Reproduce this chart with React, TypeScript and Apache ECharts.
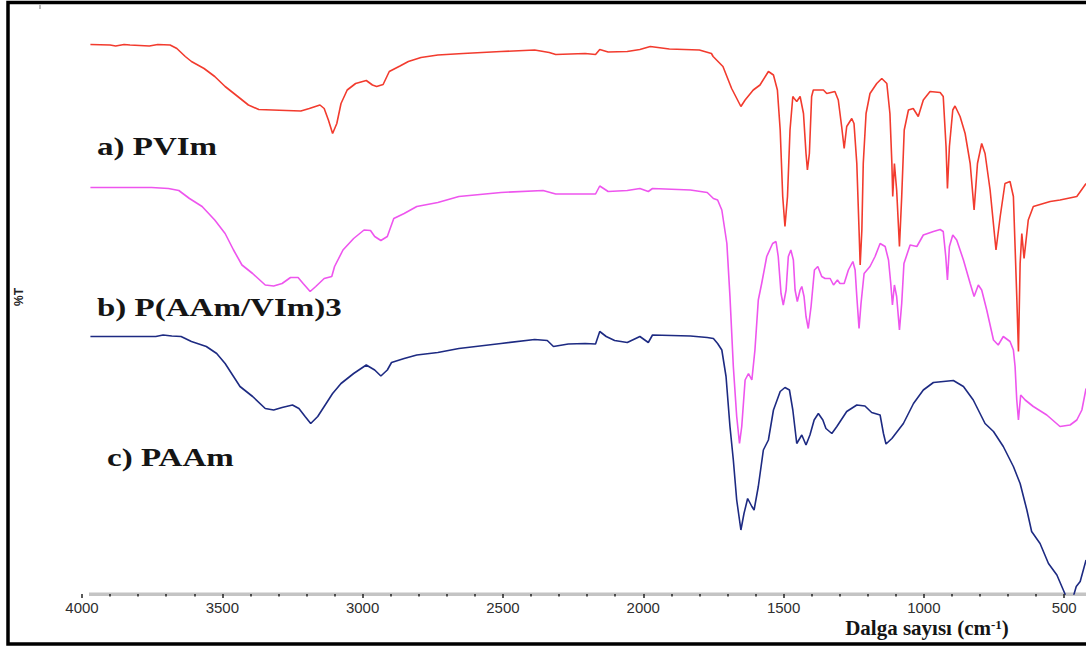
import React, { useEffect, useRef } from "react";
import * as echarts from "echarts";

// FTIR spectra: [wavenumber (cm-1), %T (offset scale)]
const pvimData: number[][] = [
  [3970,109.9],[3900,109.8],[3880,109.6],[3850,109.9],[3829,109.8],[3760,109.6],[3730,109.9],[3686,109.8],[3662,109.1],[3632,107.5],[3610,106.5],[3565,105.1],[3527,103.5],[3490,101.5],[3445,99.5],[3407,97.8],[3370,96.9],[3272,96.7],[3220,96.6],[3190,97.1],[3152,97.8],[3137,97.1],[3122,94.8],[3107,92.1],[3092,94.1],[3077,98.1],[3055,100.8],[3025,102.1],[2987,102.7],[2965,101.8],[2950,101.5],[2927,101.9],[2905,104.5],[2867,105.6],[2837,106.5],[2792,107.3],[2732,107.8],[2642,108.1],[2507,108.5],[2387,108.8],[2335,108.3],[2312,107.9],[2207,108.1],[2170,107.9],[2155,108.9],[2125,108.4],[2057,108.5],[2012,108.9],[1975,109.5],[1907,109],[1800,108.8],[1757,108.1],[1751,107.5],[1716,105.5],[1685,101.1],[1652,97.5],[1637,98.8],[1608,100.8],[1584,101.8],[1554,104.5],[1536,103.8],[1522,100.8],[1512,92.8],[1503,79.5],[1495,73.5],[1486,79.5],[1477,92.8],[1467,99.5],[1462,99.1],[1453,98.5],[1441,99.5],[1429,96.1],[1420,88.1],[1415,84.8],[1408,88.1],[1400,99.5],[1394,100.8],[1358,100.8],[1346,100.1],[1317,100.5],[1305,98.8],[1293,93.5],[1284,89.1],[1275,93.5],[1257,95.1],[1249,94.1],[1239,86.1],[1231,72.8],[1227,65.8],[1221,72.8],[1216,86.1],[1206,96.1],[1192,100.1],[1168,102.1],[1150,103.1],[1132,102.1],[1121,96.1],[1114,86.1],[1111,79.5],[1105,86.1],[1097,80.8],[1087,69.5],[1079,79.5],[1070,92.8],[1055,96.8],[1038,97.1],[1020,95.5],[1002,98.8],[978,100.5],[942,100.3],[931,99.5],[921,89.5],[916,81.1],[909,89.5],[897,96.8],[889,97.6],[871,95.5],[853,92.1],[835,86.1],[821,76.8],[809,86.1],[794,90.1],[782,88.1],[764,80.8],[743,68.8],[728,75.5],[711,82.1],[693,82.5],[681,79.5],[675,69.5],[669,59.5],[663,48.5],[657,66.1],[651,72.1],[643,67.1],[628,74.8],[610,77.5],[550,78.5],[515,78.8],[455,79.5],[422,82.1]
];

const copolyData: number[][] = [
  [3970,81.3],[3850,81.3],[3752,81.3],[3692,81.1],[3655,80.7],[3617,79.1],[3572,77.5],[3527,74.8],[3490,72.1],[3460,68.8],[3430,65.8],[3392,64.1],[3347,61.8],[3317,61.6],[3287,62.1],[3257,63.3],[3230,63.3],[3212,62.1],[3187,60.5],[3167,61.5],[3137,63.1],[3110,63.5],[3100,65.5],[3070,68.8],[3032,71.1],[2995,72.8],[2972,72.7],[2957,71.5],[2935,70.7],[2912,71.5],[2889,75.1],[2852,76.1],[2807,77.5],[2732,78.3],[2657,79.5],[2507,80.3],[2357,80.7],[2312,80],[2207,80],[2170,80],[2155,81.6],[2125,80.5],[2057,80.7],[2012,81.1],[1982,80.5],[1967,81.1],[1832,80.8],[1772,80.3],[1750,79.1],[1735,78.8],[1720,76.8],[1702,70.1],[1691,59.5],[1679,45.5],[1667,35.5],[1657,30.1],[1649,33.5],[1637,42.8],[1625,44.1],[1613,42.8],[1602,48.8],[1590,58.8],[1578,62.1],[1560,67.5],[1539,70.1],[1527,70.5],[1519,67.5],[1509,60.1],[1501,57.8],[1491,60.8],[1483,67.5],[1474,68.8],[1465,66.8],[1459,60.8],[1451,58.5],[1441,60.8],[1435,61.5],[1427,59.5],[1420,55.5],[1412,53.1],[1402,57.5],[1390,64.8],[1378,65.5],[1364,63.5],[1352,63.1],[1334,63.1],[1322,61.8],[1308,62.8],[1299,62.1],[1284,62.1],[1269,64.8],[1253,66.5],[1245,64.8],[1239,59.5],[1231,53.1],[1224,58.1],[1213,64.1],[1192,65.5],[1174,67.5],[1156,70.1],[1138,69.5],[1126,66.8],[1118,62.1],[1112,57.8],[1105,61.8],[1097,59.5],[1087,52.8],[1079,58.1],[1071,66.1],[1049,69.8],[1025,69.5],[1002,71.8],[966,72.5],[942,72.9],[931,72.5],[922,67.5],[916,62.8],[909,69.5],[897,71.8],[883,70.8],[859,66.8],[835,62.1],[821,59.5],[806,61.8],[794,60.8],[776,56.8],[752,50.8],[735,49.8],[717,51.5],[693,50.5],[681,48.8],[675,45.5],[669,38.8],[663,34.8],[655,39.8],[639,38.8],[610,37.5],[562,35.8],[515,33.5],[479,33.8],[455,34.8],[437,36.8],[422,41.1]
];

const paamData: number[][] = [
  [3970,51.5],[3850,51.5],[3737,51.5],[3711,51.8],[3680,51.6],[3647,51.5],[3610,50.5],[3557,49.5],[3520,48.1],[3490,46.1],[3460,43.5],[3437,41.5],[3392,39.5],[3347,37.1],[3317,36.8],[3287,37.3],[3250,37.8],[3227,37.1],[3205,35.5],[3185,34.1],[3160,35.5],[3130,38.1],[3107,40.1],[3077,42.1],[3032,44.1],[2987,45.8],[2957,44.8],[2935,43.6],[2912,44.8],[2897,46.3],[2852,47.1],[2807,47.8],[2732,48.3],[2657,49.1],[2507,50.1],[2387,50.9],[2342,50.7],[2320,49.5],[2267,50],[2207,50.1],[2170,50],[2155,52.5],[2132,51.5],[2102,50.7],[2057,50.3],[2012,51.5],[1982,50.3],[1967,51.8],[1832,51.6],[1772,51.3],[1750,51.1],[1735,50.1],[1720,48.8],[1705,43.5],[1691,33.5],[1679,26.8],[1667,18.8],[1652,12.8],[1641,16.1],[1628,19.1],[1613,17.5],[1605,16.8],[1590,21.5],[1572,28.8],[1554,30.8],[1536,36.8],[1512,40.5],[1495,41.3],[1479,40.8],[1467,36.8],[1453,30.1],[1435,31.8],[1420,29.8],[1406,31.8],[1391,34.8],[1376,36.1],[1360,34.8],[1349,33.1],[1328,32.1],[1310,33.5],[1275,36.5],[1239,37.8],[1210,37.6],[1186,36.3],[1156,35.8],[1144,32.1],[1135,30],[1114,31.1],[1073,34.1],[1037,38.1],[1002,40.8],[966,42.3],[895,42.7],[859,41.5],[824,38.8],[782,34.1],[752,32.5],[717,29.5],[681,25.5],[657,22.1],[633,16.8],[616,12.5],[586,10.1],[556,6.1],[526,3.8],[497,0],[485,-3],[470,-1],[457,1.5],[443,2.5],[422,6.8]
];

const seriesNames = ["a) PVIm", "b) P(AAm/VIm)3", "c) PAAm"];
const seriesColors = ["#f23b2e", "#ee55ee", "#1d2a82"];
const tickLabels = ["500", "1000", "1500", "2000", "2500", "3000", "3500", "4000"];

export default function App() {
  const ref = useRef<HTMLDivElement>(null);
  useEffect(() => {
    if (!ref.current) return;
    const chart = echarts.init(ref.current, undefined, { renderer: "svg" });
    const labelFont = { fontFamily: "Liberation Serif", fontWeight: "bold" as const, fontSize: 26, fill: "#151515" };
    chart.setOption({
      animation: false,
      backgroundColor: "#ffffff",
      grid: { left: 82, top: 19, width: 1122.5, height: 575, outerBoundsMode: "none" },
      xAxis: {
        type: "value",
        inverse: true,
        min: 0,
        max: 4000,
        interval: 500,
        z: 5,
        axisLine: { show: false },
        axisTick: { show: true, length: 4, lineStyle: { color: "#222", width: 1.5 } },
        minorTick: { show: true, splitNumber: 5, length: 2.5, lineStyle: { color: "#222", width: 1.5 } },
        splitLine: { show: false },
        minorSplitLine: { show: false },
        axisLabel: {
          margin: 5,
          fontSize: 15,
          lineHeight: 16,
          color: "#2e2e2e",
          fontFamily: "Liberation Sans",
          formatter: (v: number) => (tickLabels.includes(String(v)) ? String(v) : ""),
        },
      },
      yAxis: { type: "value", min: 0, max: 115, show: false },
      series: [pvimData, copolyData, paamData].map((d, i) => ({
        name: seriesNames[i],
        type: "line",
        data: d,
        showSymbol: false,
        symbol: "none",
        clip: true,
        lineStyle: { color: seriesColors[i], width: 1.6 },
      })),
      graphic: [
        { type: "rect", z: 1, shape: { x: 89, y: 592.5, width: 1000, height: 3.5 }, style: { fill: "#c4c4c4" } },
        { type: "rect", z: 10, shape: { x: 8, y: 2.5, width: 1200, height: 641.5 }, style: { fill: "none", stroke: "#000", lineWidth: 3.5 } },
        { type: "line", z: 10, shape: { x1: 40, y1: 4, x2: 40, y2: 9 }, style: { stroke: "#bbb", lineWidth: 2 } },
        { type: "text", x: 97, y: 146, scaleX: 1.27, style: { ...labelFont, text: seriesNames[0], verticalAlign: "middle", align: "left" } },
        { type: "text", x: 97, y: 307, scaleX: 1.27, style: { ...labelFont, text: seriesNames[1], verticalAlign: "middle", align: "left" } },
        { type: "text", x: 107, y: 457, scaleX: 1.27, style: { ...labelFont, text: seriesNames[2], verticalAlign: "middle", align: "left" } },
        {
          type: "text", x: 19, y: 297, rotation: Math.PI / 2,
          style: { text: "%T", fontSize: 12, fontWeight: "bold", fontFamily: "Liberation Sans", fill: "#222", align: "center", verticalAlign: "middle" },
        },
        {
          type: "text", x: 927, y: 628,
          style: {
            text: "{a|Dalga sayısı (cm}{s|-1}{a|)}",
            align: "center",
            verticalAlign: "middle",
            rich: {
              a: { fontFamily: "Liberation Serif", fontWeight: "bold", fontSize: 21, fill: "#151515", lineHeight: 20, verticalAlign: "middle" },
              s: { fontFamily: "Liberation Serif", fontWeight: "bold", fontSize: 13, fill: "#151515", lineHeight: 12, verticalAlign: "top" },
            },
          },
        },
      ],
    });
    return () => chart.dispose();
  }, []);
  return <div ref={ref} style={{ position: "fixed", left: 0, top: 0, width: 1086, height: 650 }} />;
}
